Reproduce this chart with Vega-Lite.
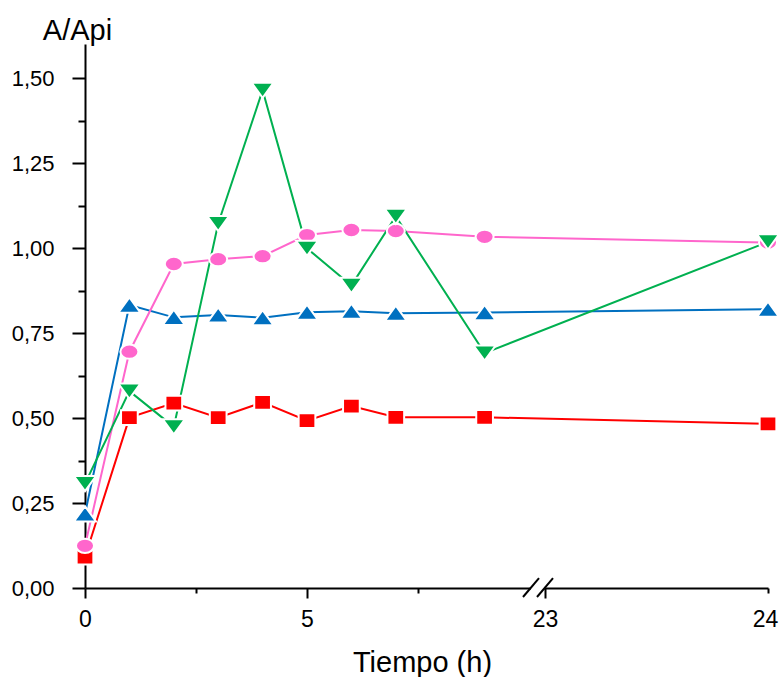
{
  "$schema": "https://vega.github.io/schema/vega-lite/v6.json",
  "autosize": "none",
  "width": 683,
  "height": 544,
  "padding": {"left": 85, "top": 44, "right": 12, "bottom": 89},
  "background": "white",
  "config": {
    "view": {"stroke": null},
    "axis": {
      "domainColor": "black", "domainWidth": 2, "tickColor": "black", "tickWidth": 2,
      "labelFont": "Liberation Sans", "labelColor": "black", "labelFontSize": 22,
      "titleFont": "Liberation Sans", "titleColor": "black", "titleFontSize": 29, "titleFontWeight": "normal",
      "grid": false
    }
  },
  "datasets": {
    "series": [
      {"s": "S1", "h": 0, "v": 0.091}, {"s": "S1", "h": 1, "v": 0.501}, {"s": "S1", "h": 2, "v": 0.544}, {"s": "S1", "h": 3, "v": 0.501}, {"s": "S1", "h": 4, "v": 0.546},
      {"s": "S1", "h": 5, "v": 0.492}, {"s": "S1", "h": 6, "v": 0.535}, {"s": "S1", "h": 7, "v": 0.502}, {"s": "S1", "h": 9, "v": 0.502}, {"s": "S1", "h": 24, "v": 0.483},
      {"s": "S2", "h": 0, "v": 0.218}, {"s": "S2", "h": 1, "v": 0.832}, {"s": "S2", "h": 2, "v": 0.796}, {"s": "S2", "h": 3, "v": 0.803}, {"s": "S2", "h": 4, "v": 0.795},
      {"s": "S2", "h": 5, "v": 0.811}, {"s": "S2", "h": 6, "v": 0.814}, {"s": "S2", "h": 7, "v": 0.808}, {"s": "S2", "h": 9, "v": 0.81}, {"s": "S2", "h": 24, "v": 0.82},
      {"s": "S3", "h": 0, "v": 0.124}, {"s": "S3", "h": 1, "v": 0.695}, {"s": "S3", "h": 2, "v": 0.953}, {"s": "S3", "h": 3, "v": 0.967}, {"s": "S3", "h": 4, "v": 0.976},
      {"s": "S3", "h": 5, "v": 1.038}, {"s": "S3", "h": 6, "v": 1.053}, {"s": "S3", "h": 7, "v": 1.05}, {"s": "S3", "h": 9, "v": 1.033}, {"s": "S3", "h": 24, "v": 1.016},
      {"s": "S4", "h": 0, "v": 0.307}, {"s": "S4", "h": 1, "v": 0.579}, {"s": "S4", "h": 2, "v": 0.474}, {"s": "S4", "h": 3, "v": 1.072}, {"s": "S4", "h": 4, "v": 1.464},
      {"s": "S4", "h": 5, "v": 0.999}, {"s": "S4", "h": 6, "v": 0.89}, {"s": "S4", "h": 7, "v": 1.093}, {"s": "S4", "h": 9, "v": 0.691}, {"s": "S4", "h": 24, "v": 1.018}
    ],
    "gap": [
      {"a": 13, "b": 22.875, "ya": 0, "yb": 0}
    ],
    "breaks": [
      {"a": 9.865, "b": 22.25, "ya": -0.0265, "yb": 0.029},
      {"a": 22.0, "b": 23.036, "ya": -0.0265, "yb": 0.029}
    ]
  },
  "encoding": {
    "x": {
      "field": "h", "type": "quantitative", "title": "Tiempo (h)",
      "scale": {"type": "linear", "domain": [0, 10, 22, 23, 24], "range": [0, 444, 452, 460, 683], "nice": false, "zero": false},
      "axis": {
        "titleBaseline": "alphabetic", "titleY": 83, "titleX": 337, "titleAnchor": null, "titleAlign": "center",
        "values": [0, 2.5, 5, 7.5, 23, 24],
        "labelExpr": "(datum.value == 2.5 || datum.value == 7.5) ? '' : datum.label",
        "tickSize": {"condition": {"test": "datum.value == 2.5 || datum.value == 7.5 || datum.value == 24", "value": 5}, "value": 10},
        "labelOffset": {"condition": {"test": "datum.value == 24", "value": -3}, "value": 0},
        "labelPadding": {"condition": {"test": "datum.value == 24", "value": 15}, "value": 10},
        "labelFontSize": 23, "labelFlush": false, "labelOverlap": false
      }
    },
    "y": {
      "field": "v", "type": "quantitative", "title": "A/Api",
      "scale": {"domain": [0, 1.6], "nice": false},
      "axis": {
        "titleAngle": 0, "titleBaseline": "alphabetic", "titleAlign": "center", "titleAnchor": null, "titleX": -8, "titleY": -5,
        "values": [0, 0.125, 0.25, 0.375, 0.5, 0.625, 0.75, 0.875, 1, 1.125, 1.25, 1.375, 1.5],
        "labelExpr": "(round(datum.value * 4) == datum.value * 4) ? replace(format(datum.value, '.2f'), '.', ',') : ''",
        "tickSize": {"condition": {"test": "round(datum.value * 4) == datum.value * 4", "value": 13}, "value": 7},
        "labelPadding": 18, "labelFlush": false, "labelOverlap": false
      }
    }
  },
  "layer": [
    {
      "data": {"name": "series"},
      "mark": {"type": "line", "strokeWidth": 2},
      "encoding": {
        "color": {"field": "s", "type": "nominal", "scale": {"domain": ["S1", "S2", "S3", "S4"], "range": ["#ff0000", "#0070c0", "#ff66cc", "#00b050"]}, "legend": null}
      }
    },
    {
      "data": {"name": "series"},
      "mark": {"type": "point", "filled": true, "opacity": 1, "stroke": "white", "strokeWidth": 2, "size": 484},
      "encoding": {
        "color": {"field": "s", "type": "nominal", "legend": null},
        "shape": {"field": "s", "type": "nominal", "legend": null, "scale": {"domain": ["S1", "S2", "S3", "S4"], "range": ["M-0.76,-0.67L0.76,-0.67L0.76,0.67L-0.76,0.67Z", "M-1,0.69L1,0.69L0,-0.69Z", "M-0.82,0A0.82,0.65,0,1,1,0.82,0A0.82,0.65,0,1,1,-0.82,0Z", "M-1,-0.69L1,-0.69L0,0.69Z"]}}
      }
    },
    {
      "data": {"name": "gap"},
      "mark": {"type": "rule", "color": "white", "strokeWidth": 4},
      "encoding": {
        "x": {"field": "a", "type": "quantitative", "title": "Tiempo (h)"},
        "x2": {"field": "b"},
        "y": {"field": "ya", "type": "quantitative", "title": "A/Api"},
        "y2": {"field": "yb"}
      }
    },
    {
      "data": {"name": "breaks"},
      "mark": {"type": "rule", "color": "black", "strokeWidth": 2},
      "encoding": {
        "x": {"field": "a", "type": "quantitative", "title": "Tiempo (h)"},
        "x2": {"field": "b"},
        "y": {"field": "ya", "type": "quantitative", "title": "A/Api"},
        "y2": {"field": "yb"}
      }
    }
  ]
}
